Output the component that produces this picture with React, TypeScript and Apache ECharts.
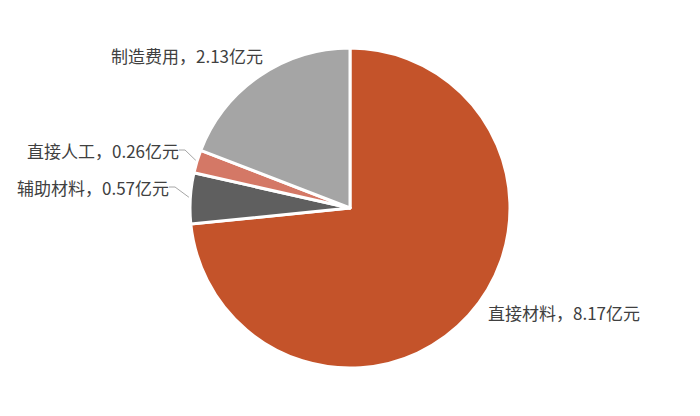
import { useEffect, useRef } from 'react'
import * as echarts from 'echarts'

// 成本构成（亿元），顺时针从12点方向开始
const categories = ['直接材料', '辅助材料', '直接人工', '制造费用']
const values = [8.17, 0.57, 0.26, 2.13]
const colors = ['#C4532A', '#5F5F5F', '#D47866', '#A5A5A5']
const showLine = [false, true, true, false]

// 标签位置（左上角x，中心y）
const labelPos = [
  [488, 312],
  [17, 187],
  [27, 150],
  [111, 55]
]

export default function App() {
  const chartRef = useRef<HTMLDivElement>(null)

  useEffect(() => {
    document.body.style.margin = '0'
    if (!chartRef.current) return
    const chart = echarts.init(chartRef.current, null, { renderer: 'svg' })

    const data = categories.map((name, i) => ({
      name,
      value: values[i],
      itemStyle: { color: colors[i] },
      labelLine: { show: showLine[i] }
    }))

    const option: echarts.EChartsOption = {
      animation: false,
      backgroundColor: '#fff',
      series: [
        {
          type: 'pie',
          center: [350, 208],
          radius: 160,
          startAngle: 90,
          clockwise: true,
          avoidLabelOverlap: false,
          itemStyle: {
            borderColor: '#fff',
            borderWidth: 3
          },
          label: {
            show: true,
            position: 'outside',
            formatter: '{b}，{c}亿元',
            color: '#404040',
            fontSize: 17,
            fontFamily: 'Noto Sans CJK SC'
          },
          labelLine: {
            show: true,
            length: 6,
            length2: 6,
            lineStyle: { color: '#A6A6A6', width: 1 }
          },
          labelLayout: (params: any) => {
            const p = labelPos[params.dataIndex]
            return {
              x: p[0],
              y: p[1],
              align: 'left',
              verticalAlign: 'middle'
            }
          },
          data
        }
      ]
    }

    chart.setOption(option)

    return () => {
      chart.dispose()
    }
  }, [])

  return <div ref={chartRef} style={{ width: 700, height: 416 }} />
}
